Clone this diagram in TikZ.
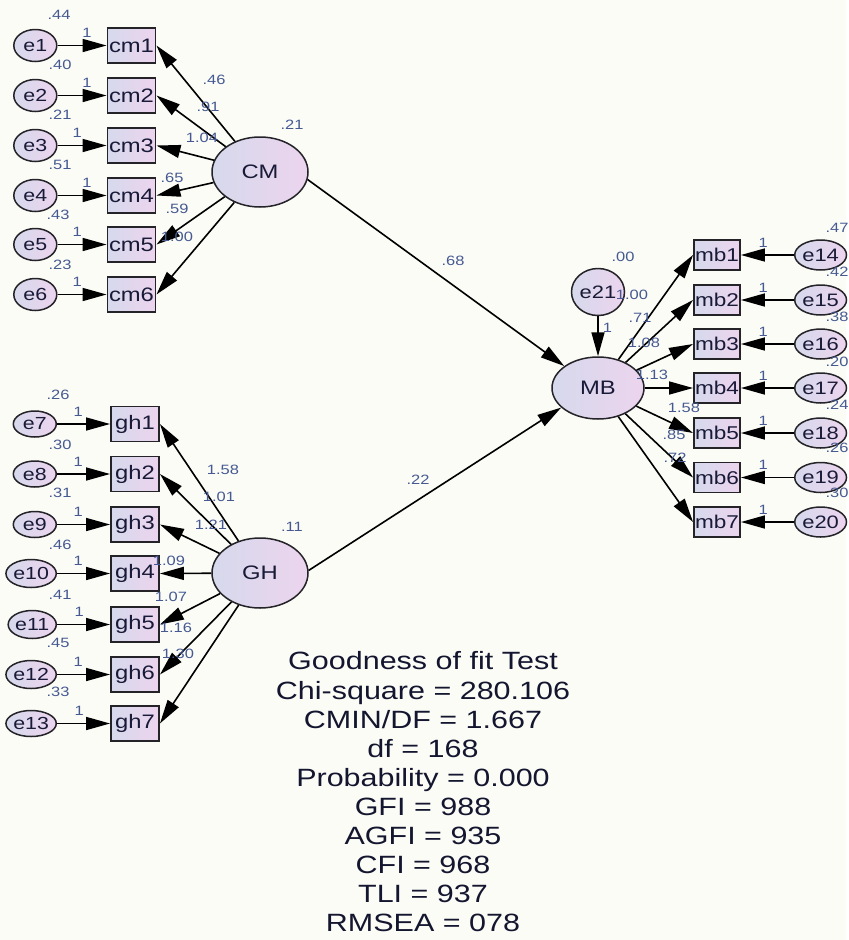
\documentclass[tikz,border=0pt]{standalone}
\usepackage{fontspec}
\setmainfont{Liberation Sans}[FakeStretch=1.22]
\usetikzlibrary{arrows.meta, positioning, shapes.geometric}

\definecolor{bgcol}{RGB}{252,252,247}
\definecolor{fillL}{RGB}{214,217,236}
\definecolor{fillR}{RGB}{236,212,238}
\definecolor{edgecol}{RGB}{35,35,40}
\definecolor{txtcol}{RGB}{24,26,55}
\definecolor{coefcol}{RGB}{70,90,145}

\begin{document}
\begin{tikzpicture}[
    x=1pt, y=-1pt,
    every node/.style={font=\fontsize{19.5}{22}\selectfont, text=txtcol},
    latent/.style={
        ellipse,
        draw=edgecol,
        line width=1.5pt,
        left color=fillL, right color=fillR,
        inner sep=0pt,
        minimum width=96pt,
        minimum height=70pt
    },
    obs/.style={
        rectangle,
        draw=edgecol,
        line width=1.9pt,
        left color=fillL, right color=fillR,
        inner sep=0pt,
        minimum width=48pt,
        minimum height=35pt
    },
    err/.style={
        ellipse,
        draw=edgecol,
        line width=1.5pt,
        left color=fillL, right color=fillR,
        inner sep=0pt,
        minimum width=43pt,
        minimum height=30pt,
        font=\fontsize{17.5}{20}\selectfont
    },
    coef/.style={font=\fontsize{13.5}{15}\selectfont, text=coefcol, inner sep=0pt},
    gof/.style={align=center, font=\fontsize{25}{29.1}\selectfont, text=txtcol!85!black},
    regr/.style={-{Triangle[length=24pt, width=13pt]}, line width=1.6pt, draw=black}
]

\fill[bgcol] (0,0) rectangle (846,940);

% latent variables
\node[latent] (CM) at (260,172) {CM};
\node[latent] (GH) at (260,573) {GH};
\node[latent, minimum width=92pt, minimum height=62pt] (MB) at (598,388) {MB};
\node[err, minimum width=53pt, minimum height=47pt, font=\fontsize{18}{20}\selectfont] (e21) at (598,292) {e21};

% CM indicators
\node[obs] (cm1) at (131.5,45.5) {cm1};
\node[obs] (cm2) at (131.5,95.5) {cm2};
\node[obs] (cm3) at (131.5,145.5) {cm3};
\node[obs] (cm4) at (131.5,195.5) {cm4};
\node[obs] (cm5) at (131.5,244.5) {cm5};
\node[obs] (cm6) at (131.5,294.5) {cm6};
\node[err, minimum height=32pt, left=49pt of cm1] (e1) {e1};
\node[err, minimum height=32pt, left=49pt of cm2] (e2) {e2};
\node[err, minimum height=32pt, left=49pt of cm3] (e3) {e3};
\node[err, minimum height=32pt, left=49pt of cm4] (e4) {e4};
\node[err, minimum height=32pt, left=49pt of cm5] (e5) {e5};
\node[err, minimum height=32pt, left=49pt of cm6] (e6) {e6};

% GH indicators
\node[obs] (gh1) at (135,424) {gh1};
\node[obs] (gh2) at (135,474) {gh2};
\node[obs] (gh3) at (135,524.5) {gh3};
\node[obs] (gh4) at (135,573.5) {gh4};
\node[obs] (gh5) at (135,624.5) {gh5};
\node[obs] (gh6) at (135,674.5) {gh6};
\node[obs] (gh7) at (135,723.5) {gh7};
\node[err, minimum height=26pt, left=53pt of gh1] (e7) {e7};
\node[err, minimum height=26pt, left=53pt of gh2] (e8) {e8};
\node[err, minimum height=26pt, left=53pt of gh3] (e9) {e9};
\node[err, minimum height=28pt, left=53pt of gh4] (e10) {e10};
\node[err, minimum height=28pt, left=53pt of gh5] (e11) {e11};
\node[err, minimum height=28pt, left=53pt of gh6] (e12) {e12};
\node[err, minimum height=26pt, left=53pt of gh7] (e13) {e13};

% MB indicators
\node[obs, minimum width=46pt, minimum height=30pt, font=\fontsize{18.5}{20}\selectfont] (mb1) at (717,255) {mb1};
\node[obs, minimum width=46pt, minimum height=30pt, font=\fontsize{18.5}{20}\selectfont] (mb2) at (717,300) {mb2};
\node[obs, minimum width=46pt, minimum height=30pt, font=\fontsize{18.5}{20}\selectfont] (mb3) at (717,344) {mb3};
\node[obs, minimum width=46pt, minimum height=30pt, font=\fontsize{18.5}{20}\selectfont] (mb4) at (717,388) {mb4};
\node[obs, minimum width=46pt, minimum height=30pt, font=\fontsize{18.5}{20}\selectfont] (mb5) at (717,433) {mb5};
\node[obs, minimum width=46pt, minimum height=30pt, font=\fontsize{18.5}{20}\selectfont] (mb6) at (717,477.5) {mb6};
\node[obs, minimum width=46pt, minimum height=30pt, font=\fontsize{18.5}{20}\selectfont] (mb7) at (717,522) {mb7};
\node[err, minimum width=37pt, font=\fontsize{18}{20}\selectfont, right=53pt of mb1] (e14) {e14};
\node[err, minimum width=37pt, font=\fontsize{18}{20}\selectfont, right=53pt of mb2] (e15) {e15};
\node[err, minimum width=37pt, font=\fontsize{18}{20}\selectfont, right=53pt of mb3] (e16) {e16};
\node[err, minimum width=37pt, font=\fontsize{18}{20}\selectfont, right=53pt of mb4] (e17) {e17};
\node[err, minimum width=37pt, font=\fontsize{18}{20}\selectfont, right=53pt of mb5] (e18) {e18};
\node[err, minimum width=37pt, font=\fontsize{18}{20}\selectfont, right=53pt of mb6] (e19) {e19};
\node[err, minimum width=37pt, font=\fontsize{18}{20}\selectfont, right=53pt of mb7] (e20) {e20};

% error paths
\draw[regr] (e1) -- node[coef, above=7pt, pos=0.6] (w1) {1} (cm1);
\draw[regr] (e2) -- node[coef, above=7pt, pos=0.6] (w2) {1} (cm2);
\draw[regr] (e3) -- node[coef, above=7pt, pos=0.4] (w3) {1} (cm3);
\draw[regr] (e4) -- node[coef, above=7pt, pos=0.6] (w4) {1} (cm4);
\draw[regr] (e5) -- node[coef, above=7pt, pos=0.4] (w5) {1} (cm5);
\draw[regr] (e6) -- node[coef, above=7pt, pos=0.4] (w6) {1} (cm6);
\draw[regr] (e7) -- node[coef, above=7pt, pos=0.4] (w7) {1} (gh1);
\draw[regr] (e8) -- node[coef, above=7pt, pos=0.4] (w8) {1} (gh2);
\draw[regr] (e9) -- node[coef, above=7pt, pos=0.4] (w9) {1} (gh3);
\draw[regr] (e10) -- node[coef, above=7pt, pos=0.4] (w10) {1} (gh4);
\draw[regr] (e11) -- node[coef, above=7pt, pos=0.42] (w11) {1} (gh5);
\draw[regr] (e12) -- node[coef, above=7pt, pos=0.4] (w12) {1} (gh6);
\draw[regr] (e13) -- node[coef, above=7pt, pos=0.42] (w13) {1} (gh7);
\draw[regr] (e14) -- node[coef, above=7pt, pos=0.58] (w14) {1} (mb1);
\draw[regr] (e15) -- node[coef, above=7pt, pos=0.58] (w15) {1} (mb2);
\draw[regr] (e16) -- node[coef, above=7pt, pos=0.58] (w16) {1} (mb3);
\draw[regr] (e17) -- node[coef, above=7pt, pos=0.58] (w17) {1} (mb4);
\draw[regr] (e18) -- node[coef, above=7pt, pos=0.58] (w18) {1} (mb5);
\draw[regr] (e19) -- node[coef, above=7pt, pos=0.58] (w19) {1} (mb6);
\draw[regr] (e20) -- node[coef, above=7pt, pos=0.58] (w20) {1} (mb7);
\draw[regr] (e21) -- node[coef, right=4pt, pos=0.3] (w21) {1} (MB);

% loadings
\draw[regr] (CM) -- (cm1.east);
\draw[regr] (CM) -- (cm2.east);
\draw[regr] (CM) -- (cm3.east);
\draw[regr] (CM) -- (cm4.east);
\draw[regr] (CM) -- (cm5.east);
\draw[regr] (CM) -- (cm6.east);
\draw[regr] (GH) -- (gh1.east);
\draw[regr] (GH) -- (gh2.east);
\draw[regr] (GH) -- (gh3.east);
\draw[regr] (GH) -- (gh4.east);
\draw[regr] (GH) -- (gh5.east);
\draw[regr] (GH) -- (gh6.east);
\draw[regr] (GH) -- (gh7.east);
\draw[regr] (MB) -- (mb1.west);
\draw[regr] (MB) -- (mb2.west);
\draw[regr] (MB) -- (mb3.west);
\draw[regr] (MB) -- (mb4.west);
\draw[regr] (MB) -- (mb5.west);
\draw[regr] (MB) -- (mb6.west);
\draw[regr] (MB) -- (mb7.west);

% structural paths
\draw[regr] (CM.-9) -- (MB.147);
\draw[regr] (GH.3) -- (MB.-152);

% variances
\node[coef] (v1) at (59,15) {.44};
\node[coef] (v2) at (60,65) {.40};
\node[coef] (v3) at (60,115) {.21};
\node[coef] (v4) at (60,165) {.51};
\node[coef] (v5) at (58,215) {.43};
\node[coef] (v6) at (60,265) {.23};
\node[coef] (v7) at (58,395) {.26};
\node[coef] (v8) at (60,445) {.30};
\node[coef] (v9) at (60,493) {.31};
\node[coef] (v10) at (60,545) {.46};
\node[coef] (v11) at (60,595) {.41};
\node[coef] (v12) at (58,643) {.45};
\node[coef] (v13) at (58,692) {.33};
\node[coef] (v14) at (837,228) {.47};
\node[coef] (v15) at (837,272) {.42};
\node[coef] (v16) at (837,317) {.38};
\node[coef] (v17) at (837,362) {.20};
\node[coef] (v18) at (837,405) {.24};
\node[coef] (v19) at (837,448) {.26};
\node[coef] (v20) at (837,493) {.30};
\node[coef] (v21) at (623,257) {.00};
\node[coef] (vCM) at (292,125) {.21};
\node[coef] (vGH) at (292,527) {.11};

% loading estimates
\node[coef] (lcm1) at (214,80) {.46};
\node[coef] (lcm2) at (208,107) {.91};
\node[coef] (lcm3) at (202,138) {1.04};
\node[coef] (lcm4) at (172,178) {.65};
\node[coef] (lcm5) at (177,209) {.59};
\node[coef] (lcm6) at (177,237) {1.00};
\node[coef] (lgh1) at (223,470) {1.58};
\node[coef] (lgh2) at (219,497) {1.01};
\node[coef] (lgh3) at (211,525) {1.21};
\node[coef] (lgh4) at (169,561) {1.09};
\node[coef] (lgh5) at (171,597) {1.07};
\node[coef] (lgh6) at (176,628) {1.16};
\node[coef] (lgh7) at (178,654) {1.30};
\node[coef] (lmb1) at (632,295) {1.00};
\node[coef] (lmb2) at (640,318) {.71};
\node[coef] (lmb3) at (644,343) {1.08};
\node[coef] (lmb4) at (652,375) {1.13};
\node[coef] (lmb5) at (684,408) {1.58};
\node[coef] (lmb6) at (674,435) {.85};
\node[coef] (lmb7) at (675,458) {.72};
\node[coef] (lCM) at (453,261) {.68};
\node[coef] (lGH) at (418,480) {.22};

% fit indices
\node[gof] (fitbox) at (423,792) {Goodness of fit Test\\Chi-square = 280.106\\CMIN/DF = 1.667\\df = 168\\Probability = 0.000\\GFI = 988\\AGFI = 935\\CFI = 968\\TLI = 937\\RMSEA = 078};

\end{tikzpicture}
\end{document}
